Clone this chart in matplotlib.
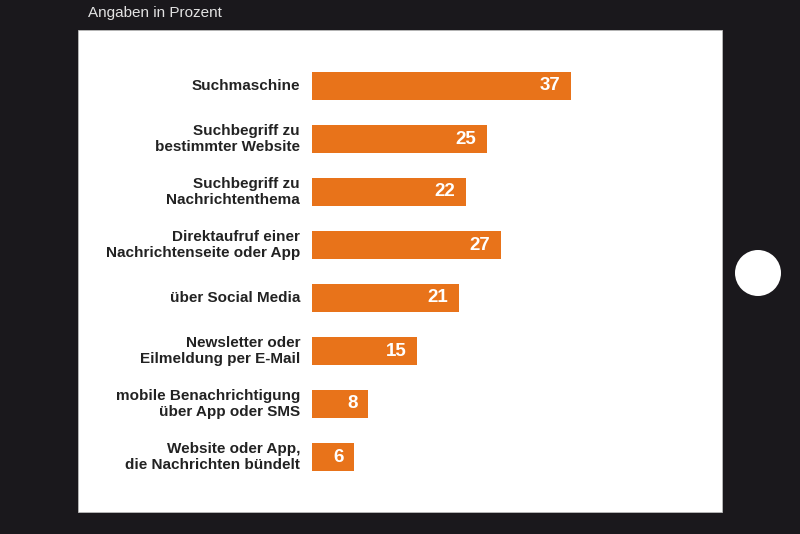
import matplotlib
matplotlib.use("Agg")
import matplotlib.pyplot as plt
from matplotlib.patches import Rectangle, Ellipse

categories = [
    "Suchmaschine",
    "Suchbegriff zu\nbestimmter Website",
    "Suchbegriff zu\nNachrichtenthema",
    "Direktaufruf einer\nNachrichtenseite oder App",
    "über Social Media",
    "Newsletter oder\nEilmeldung per E-Mail",
    "mobile Benachrichtigung\nüber App oder SMS",
    "Website oder App,\ndie Nachrichten bündelt",
]
values = [37, 25, 22, 27, 21, 15, 8, 6]
subtitle = "Angaben in Prozent"

W, H = 800, 534
BG = "#1a181c"
ORANGE = "#e8731a"
TEXT = "#222222"

plt.rcParams["font.family"] = ["Liberation Sans", "DejaVu Sans"]

fig = plt.figure(figsize=(W / 100, H / 100), dpi=100)
fig.patch.set_facecolor(BG)

def fx(px):
    return px / W

def fy(py):
    return 1 - py / H

# white screen panel
fig.patches.append(Rectangle((fx(78), fy(512)), fx(722) - fx(78), fy(30) - fy(512),
                             transform=fig.transFigure, facecolor="white",
                             edgecolor="#bbbbbb", linewidth=0.6, zorder=-2))
# home button
fig.patches.append(Ellipse((fx(758), fy(273)), 46 / W, 46 / H,
                           transform=fig.transFigure, facecolor="white",
                           edgecolor="none", zorder=-2))

fig.text(fx(88), fy(13), subtitle, color="#e2e2e2", fontsize=11,
         ha="left", va="center")

# bar axes: x from 312 px, 7 px per unit; bar centres 86..457 px
ax_left, ax_right = 312, 712
ax_top, ax_bot = 59.5, 483.5
ax = fig.add_axes([fx(ax_left), fy(ax_bot), (ax_right - ax_left) / W, (ax_bot - ax_top) / H])
ax.set_zorder(1)
ax.set_xlim(0, (ax_right - ax_left) / 7.0)
ax.set_ylim(len(values) - 0.5, -0.5)
ax.patch.set_alpha(0)
for s in ax.spines.values():
    s.set_visible(False)
ax.set_xticks([])
ax.set_yticks([])

ypos = list(range(len(values)))
ax.barh(ypos, values, height=28 / 53, color=ORANGE, edgecolor="none")

for y, v, c in zip(ypos, values, categories):
    ax.annotate(c, xy=(0, y), xytext=(-8.6, 0), textcoords="offset points",
                ha="right", va="center", multialignment="right",
                fontsize=11, fontweight="bold", color=TEXT, linespacing=1.15,
                annotation_clip=False)
    ax.annotate(str(v), xy=(v, y), xytext=(-7.5, 0), textcoords="offset points",
                ha="right", va="center", fontsize=13.5, fontweight="bold",
                color="white")

fig.savefig("out.png", dpi=100, facecolor=fig.get_facecolor())
